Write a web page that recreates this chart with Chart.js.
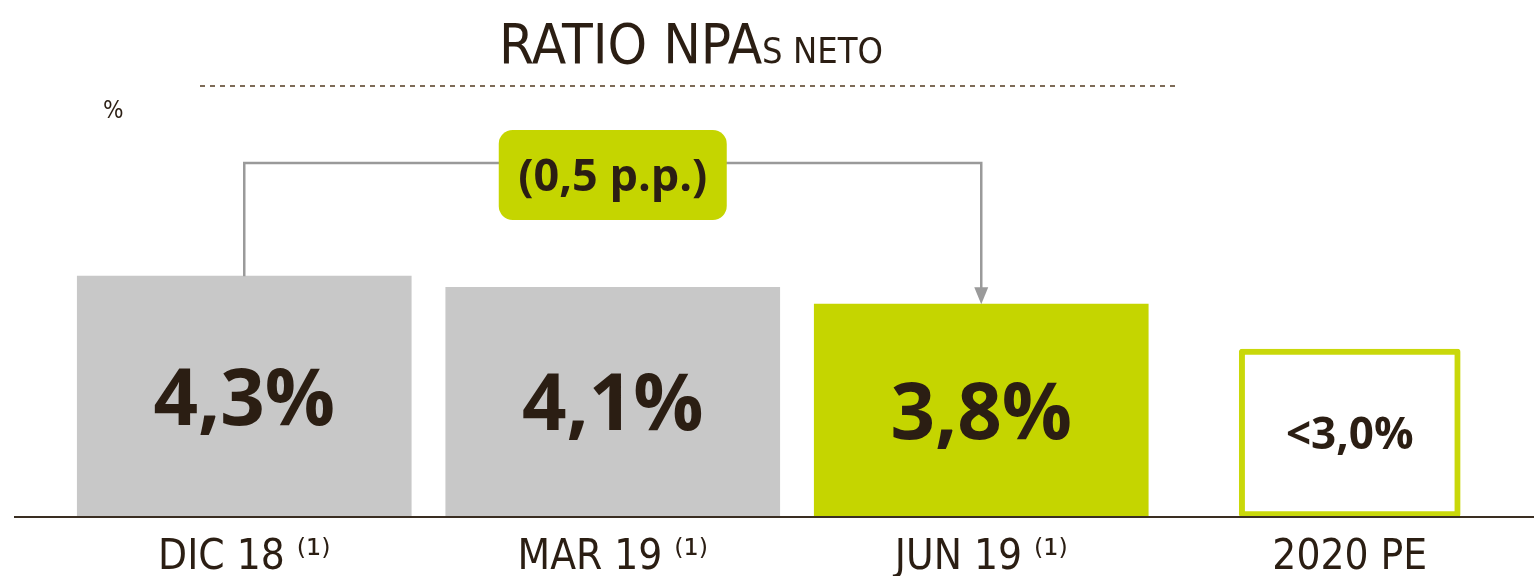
<!DOCTYPE html>
<html>
<head>
<meta charset="utf-8">
<script src="https://cdn.jsdelivr.net/npm/chart.js@4.4.1/dist/chart.umd.min.js"></script>
<style>
  html, body { margin: 0; padding: 0; background: #fff; }
  #wrap { width: 1534px; height: 576px; position: relative; }
</style>
</head>
<body>
<div id="wrap"><canvas id="npaChart"></canvas></div>
<script>
// Ratio NPAs neto por periodo
const periodos = ['DIC 18', 'MAR 19', 'JUN 19', '2020 PE'];
const notas = [' \u207D\u00B9\u207E', ' \u207D\u00B9\u207E', ' \u207D\u00B9\u207E', ''];
const ratioNpa = [4.3, 4.1, 3.8, null];
const objetivo2020 = [null, null, null, 3.0];
const prefijos = ['', '', '', '<'];

const OSCURO = '#2b1e13';
const GRIS = '#c8c8c8';
const VERDE = '#c5d500';
const FLECHA = '#9a9a9a';

const fmt = v => v.toFixed(1).replace('.', ',');

// titulo, linea base, etiquetas y la flecha de variacion
const decoracion = {
    id: 'decoracion',
    afterDraw(chart) {
        const ctx = chart.ctx;
        const area = chart.chartArea;
        const y0 = chart.scales.y.getPixelForValue(0);
        ctx.save();

        // titulo con subindice
        ctx.fillStyle = OSCURO;
        ctx.textBaseline = 'alphabetic';
        ctx.textAlign = 'left';
        ctx.font = '56px "DejaVu Sans Condensed", "Liberation Sans Narrow", "DejaVu Sans"';
        const t1 = 'RATIO NPA';
        const w1 = ctx.measureText(t1).width;
        ctx.font = '36px "DejaVu Sans Condensed", "Liberation Sans Narrow", "DejaVu Sans"';
        const t2 = 'S NETO';
        const w2 = ctx.measureText(t2).width;
        const tx = 691 - (w1 + w2) / 2;
        ctx.font = '56px "DejaVu Sans Condensed", "Liberation Sans Narrow", "DejaVu Sans"';
        ctx.fillText(t1, tx, 63);
        ctx.font = '36px "DejaVu Sans Condensed", "Liberation Sans Narrow", "DejaVu Sans"';
        ctx.fillText(t2, tx + w1, 63);

        // linea punteada bajo el titulo
        ctx.strokeStyle = '#7d6b57';
        ctx.lineWidth = 2;
        ctx.setLineDash([5, 5]);
        ctx.beginPath();
        ctx.moveTo(200, 86);
        ctx.lineTo(1177, 86);
        ctx.stroke();
        ctx.setLineDash([]);

        // unidad
        ctx.font = '24px "DejaVu Sans Condensed", "DejaVu Sans"';
        ctx.fillText('%', 103, 118);

        // eje horizontal
        ctx.strokeStyle = '#3a2e22';
        ctx.lineWidth = 2;
        ctx.beginPath();
        ctx.moveTo(14, y0);
        ctx.lineTo(chart.width, y0);
        ctx.stroke();

        // valores dentro de las barras
        ctx.textAlign = 'center';
        chart.data.datasets.forEach((ds, di) => {
            const meta = chart.getDatasetMeta(di);
            meta.data.forEach((bar, i) => {
                const v = ds.data[i];
                if (v == null) return;
                const size = di === 0 ? 78 : 44;
                ctx.font = 'bold ' + size + 'px "Open Sans", "DejaVu Sans"';
                const mid = (bar.y + bar.base) / 2;
                ctx.fillText(prefijos[i] + fmt(v) + '%', bar.x, mid + size * 0.36);
            });
        });

        // flecha de variacion entre DIC 18 y JUN 19
        const m0 = chart.getDatasetMeta(0);
        const a = m0.data[0], b = m0.data[1], c = m0.data[2];
        const yTop = area.top + 94;
        ctx.strokeStyle = FLECHA;
        ctx.lineWidth = 2.5;
        ctx.beginPath();
        ctx.moveTo(a.x, a.y);
        ctx.lineTo(a.x, yTop);
        ctx.lineTo(c.x, yTop);
        ctx.lineTo(c.x, c.y - 15);
        ctx.stroke();
        ctx.fillStyle = FLECHA;
        ctx.beginPath();
        ctx.moveTo(c.x - 7, c.y - 17);
        ctx.lineTo(c.x + 7, c.y - 17);
        ctx.lineTo(c.x, c.y);
        ctx.closePath();
        ctx.fill();

        // caja con la diferencia
        const bw = 228, bh = 90;
        const bx = b.x - bw / 2, by = yTop - 33;
        ctx.fillStyle = VERDE;
        ctx.beginPath();
        ctx.roundRect(bx, by, bw, bh, 14);
        ctx.fill();
        ctx.fillStyle = OSCURO;
        ctx.font = 'bold 45px "Open Sans", "DejaVu Sans"';
        const dif = '(' + fmt(ratioNpa[0] - ratioNpa[2]) + ' p.p.)';
        ctx.fillText(dif, b.x, by + bh / 2 + 16);

        ctx.restore();
    }
};

const ctx = document.getElementById('npaChart').getContext('2d');
new Chart(ctx, {
    type: 'bar',
    data: {
        labels: periodos.map((p, i) => p + notas[i]),
        datasets: [{
            data: ratioNpa,
            backgroundColor: [GRIS, GRIS, VERDE, GRIS],
            barThickness: 334,
            grouped: false
        }, {
            data: objetivo2020,
            backgroundColor: '#ffffff',
            borderColor: '#c9d80a',
            borderWidth: 6,
            borderSkipped: false,
            borderRadius: 3,
            barThickness: 221,
            grouped: false
        }]
    },
    options: {
        responsive: true,
        maintainAspectRatio: false,
        animation: false,
        layout: { padding: { top: 69, left: 60, right: 0, bottom: 0 } },
        plugins: {
            legend: { display: false },
            tooltip: { enabled: false }
        },
        scales: {
            x: {
                grid: { display: false },
                border: { display: false },
                afterFit: s => { s.height = 59; },
                ticks: {
                    color: OSCURO,
                    padding: 8,
                    font: { family: '"Liberation Sans Narrow", "DejaVu Sans Condensed", Roboto', size: 42 }
                }
            },
            y: {
                display: false,
                min: 0,
                max: 8
            }
        }
    },
    plugins: [decoracion]
});
</script>
</body>
</html>
